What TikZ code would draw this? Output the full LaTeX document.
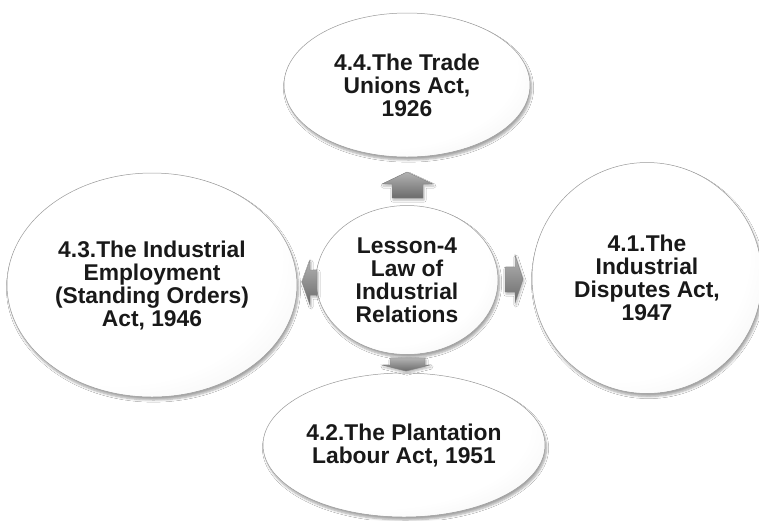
\documentclass[tikz,border=0pt]{standalone}
\usepackage{fontspec}
\setmainfont{Liberation Sans}
\usetikzlibrary{shapes.geometric,shadows.blur}
\pgfdeclareradialshading{softball}{\pgfpoint{-9bp}{9bp}}{color(0bp)=(white); color(28bp)=(white); color(42bp)=(black!7); color(50bp)=(black!30); color(58bp)=(black!42); color(80bp)=(black!42)}
\begin{document}
\begin{tikzpicture}[x=1pt,y=-1pt,
  bub/.style={ellipse, draw=black!40, line width=0.5pt, shading=softball, inner sep=0pt,
    align=center, font=\bfseries\fontsize{22.8}{23}\selectfont, text=black!90,
    blur shadow={shadow xshift=1.5pt, shadow yshift=-3pt, shadow opacity=35, shadow blur steps=6}},
  blk/.style={draw=black!50, line width=0.4pt, line join=miter,
    top color=black!30, bottom color=black!58,
    blur shadow={shadow xshift=1pt, shadow yshift=-2pt, shadow opacity=30, shadow blur steps=4}}
]
\useasboundingbox (0,0) rectangle (759,520);
\fill[white] (0,0) rectangle (759,520);

\node[bub, minimum width=246pt, minimum height=144pt] (t) at (407,85)
  {4.4.The Trade\\Unions Act,\\1926};
\node[bub, minimum width=182pt, minimum height=149pt] (c) at (407,280)
  {Lesson-4\\Law of\\Industrial\\Relations};
\node[bub, minimum width=290pt, minimum height=224pt] (l) at (152,285)
  {4.3.The Industrial\\Employment\\(Standing Orders)\\Act, 1946};
\node[bub, minimum width=230pt, minimum height=231pt] (r) at (647,278)
  {4.1.The\\Industrial\\Disputes Act,\\1947};
\node[bub, minimum width=282pt, minimum height=144pt] (b) at (404,445)
  {4.2.The Plantation\\Labour Act, 1951};

% block arrows from the centre towards each outer item
\coordinate (au) at (407,172);
\coordinate (ar) at (523,279);
\coordinate (al) at (302,282);
\coordinate (ad) at (406,371);
\path[blk] (392,198) -- (392,184) -- (382,184) -- (au) -- (433,184) -- (423,184) -- (423,198) -- cycle;
\path[blk] (505,267) -- (515,267) -- (515,255) -- (ar) -- (515,303) -- (515,292) -- (505,292) -- cycle;
\path[blk] (317,270) -- (310,270) -- (310,260) -- (al) -- (310,305) -- (310,295) -- (317,295) -- cycle;
\path[blk] (390,358) -- (390,365) -- (382,365) -- (ad) -- (430,365) -- (425,365) -- (425,358) -- cycle;
\end{tikzpicture}
\end{document}
